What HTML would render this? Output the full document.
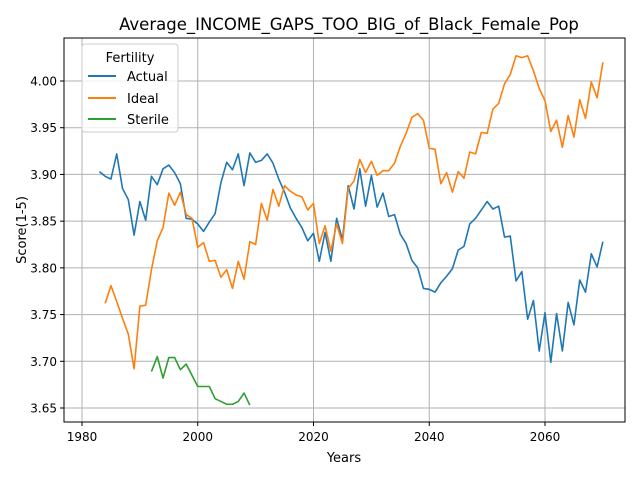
<!DOCTYPE html>
<html><head><meta charset="utf-8"><style>
body{margin:0;background:#fff;font-family:"Liberation Sans","DejaVu Sans",sans-serif}
svg text{font-family:"DejaVu Sans","Liberation Sans",sans-serif}
</style></head><body>
<svg id="chart" width="640" height="480">
<rect width="640" height="480" fill="#fff"/>
<g id="grid"></g>
<g id="series"></g>
<rect x="64" y="38" width="561" height="384" fill="none" stroke="#000" stroke-width="1"/>
<g id="axes"></g>
<text x="349" y="30" font-size="16.5" text-anchor="middle">Average_INCOME_GAPS_TOO_BIG_of_Black_Female_Pop</text>
<text x="344" y="462" font-size="13" text-anchor="middle">Years</text>
<text x="26" y="230" font-size="13" text-anchor="middle" transform="rotate(-90 26 230)">Score(1-5)</text>
<g>
<rect x="82" y="44" width="96" height="88" rx="3" fill="#fff" fill-opacity="0.8" stroke="#ccc"/>
<text x="130" y="62" font-size="13" text-anchor="middle">Fertility</text>
<g><line x1="88" x2="116" y1="76" y2="76" stroke="#1f77b4" stroke-width="2"/><text x="127" y="81" font-size="13">Actual</text></g>
<g><line x1="88" x2="116" y1="98" y2="98" stroke="#ff7f0e" stroke-width="2"/><text x="127" y="103" font-size="13">Ideal</text></g>
<g><line x1="88" x2="116" y1="119" y2="119" stroke="#2ca02c" stroke-width="2"/><text x="127" y="124" font-size="13">Sterile</text></g>
</g>
</svg>
<script>
const xTicks=[1980,2000,2020,2040,2060];
const yTicks=[3.65,3.70,3.75,3.80,3.85,3.90,3.95,4.00];
const yTickLabels=["3.65","3.70","3.75","3.80","3.85","3.90","3.95","4.00"];
const actualStart=1983;
const actualValues=[3.903,3.898,3.895,3.922,3.885,3.873,3.835,3.871,3.851,3.898,3.889,3.906,3.910,3.902,3.890,3.853,3.852,3.847,3.839,3.849,3.858,3.891,3.913,3.905,3.922,3.888,3.923,3.913,3.915,3.922,3.912,3.895,3.881,3.864,3.853,3.843,3.829,3.837,3.807,3.838,3.807,3.853,3.830,3.888,3.863,3.906,3.866,3.899,3.865,3.880,3.855,3.857,3.836,3.826,3.808,3.800,3.778,3.777,3.774,3.784,3.791,3.799,3.819,3.823,3.847,3.853,3.862,3.871,3.863,3.866,3.833,3.834,3.786,3.796,3.745,3.765,3.711,3.752,3.699,3.751,3.711,3.763,3.739,3.787,3.774,3.815,3.801,3.828];
const idealStart=1984;
const idealValues=[3.762,3.781,3.764,3.746,3.729,3.692,3.759,3.760,3.798,3.829,3.843,3.880,3.867,3.881,3.857,3.853,3.822,3.827,3.807,3.808,3.790,3.798,3.778,3.807,3.788,3.828,3.825,3.869,3.851,3.884,3.866,3.888,3.882,3.878,3.876,3.862,3.869,3.826,3.845,3.818,3.847,3.826,3.885,3.893,3.916,3.902,3.914,3.899,3.904,3.904,3.912,3.930,3.944,3.961,3.965,3.958,3.928,3.927,3.890,3.902,3.881,3.903,3.896,3.924,3.922,3.945,3.944,3.970,3.976,3.997,4.007,4.027,4.025,4.027,4.011,3.992,3.979,3.946,3.958,3.929,3.963,3.940,3.980,3.960,3.999,3.982,4.020];
const sterileStart=1992;
const sterileValues=[3.689,3.705,3.682,3.704,3.704,3.691,3.697,3.685,3.673,3.673,3.673,3.660,3.657,3.654,3.654,3.657,3.666,3.653];

const NS="http://www.w3.org/2000/svg";
function xs(v){return 82+(v-1980)*(545-82)/80;}
function ys(v){return 408-(v-3.65)*(408-81)/0.35;}
const grid=document.getElementById('grid'),axes=document.getElementById('axes'),ser=document.getElementById('series');
function mk(tag,attrs,parent){const e=document.createElementNS(NS,tag);for(const k in attrs)e.setAttribute(k,attrs[k]);parent.appendChild(e);return e;}
xTicks.forEach(t=>{
  const x=xs(t);
  const g=mk('line',{x1:x,x2:x,y1:38,y2:422,stroke:'#b0b0b0','stroke-width':1},grid);
  
  
  const tk=mk('line',{x1:x,x2:x,y1:422,y2:426,stroke:'#000'},axes);
  
  
  const tx=mk('text',{x:x,y:441,'font-size':12,'text-anchor':'middle'},axes);
  tx.textContent=t;
  
  
});
yTicks.forEach((t,i)=>{
  const y=ys(t);
  const g=mk('line',{x1:64,x2:625,y1:y,y2:y,stroke:'#b0b0b0','stroke-width':1},grid);
  
  
  const tk=mk('line',{x1:60,x2:64,y1:y,y2:y,stroke:'#000'},axes);
  
  
  const tx=mk('text',{x:57,y:y+4.5,'font-size':12,'text-anchor':'end'},axes);
  tx.textContent=yTickLabels[i];
  
  
});
function line(start,vals,color,name){
  const pts=vals.map((v,i)=>xs(start+i).toFixed(2)+','+ys(v).toFixed(2)).join(' ');
  const p=mk('polyline',{points:pts,fill:'none',stroke:color,'stroke-width':1.6,'stroke-linejoin':'round'},ser);
  
  
}
line(actualStart,actualValues,'#1f77b4','actual-line');
line(idealStart,idealValues,'#ff7f0e','ideal-line');
line(sterileStart,sterileValues,'#2ca02c','sterile-line');
</script>
</body></html>
